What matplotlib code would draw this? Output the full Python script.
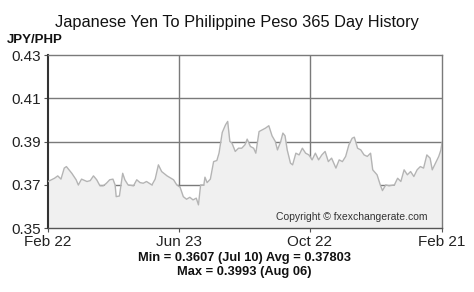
import numpy as np
import matplotlib.pyplot as plt

# days since Feb 22 and JPY/PHP rate
days = [0, 6, 9, 12, 15, 17, 22, 26, 28, 31, 36, 39, 42, 45, 48, 51, 54, 57, 60, 62,
        63, 66, 67, 69, 71, 74, 79, 82, 85, 88, 91, 96, 99, 102, 105, 110, 116, 119, 122, 125,
        128, 131, 134, 137, 139, 141, 144, 145, 147, 150, 153, 156, 158, 161, 164, 166, 168, 170, 173, 176,
        179, 182, 184, 187, 190, 192, 195, 198, 201, 204, 207, 210, 212, 215, 217, 219, 221, 224, 226, 229,
        232, 235, 238, 241, 244, 247, 250, 253, 256, 259, 262, 266, 269, 272, 275, 278, 281, 283, 286, 289,
        292, 295, 298, 300, 304, 307, 309, 312, 315, 320, 323, 326, 329, 332, 335, 338, 341, 344, 347, 350,
        353, 355, 358, 361, 363, 364]
rates = [0.3715, 0.3730, 0.3741, 0.3726, 0.3777, 0.3784, 0.3753, 0.3723, 0.3699, 0.3726, 0.3715, 0.3719, 0.3741, 0.3723, 0.3695, 0.3695, 0.3707, 0.3723, 0.3726, 0.3699,
         0.3645, 0.3648, 0.3684, 0.3753, 0.3723, 0.3699, 0.3695, 0.3723, 0.3710, 0.3707, 0.3715, 0.3699, 0.3726, 0.3792, 0.3761, 0.3741, 0.3723, 0.3699, 0.3689, 0.3645,
         0.3633, 0.3642, 0.3630, 0.3638, 0.3607, 0.3699, 0.3699, 0.3735, 0.3710, 0.3726, 0.3807, 0.3812, 0.3846, 0.3942, 0.3977, 0.3993, 0.3900, 0.3892, 0.3854, 0.3869,
         0.3869, 0.3885, 0.3911, 0.3877, 0.3869, 0.3846, 0.3946, 0.3954, 0.3962, 0.3973, 0.3926, 0.3900, 0.3861, 0.3900, 0.3939, 0.3926, 0.3861, 0.3800, 0.3792, 0.3846,
         0.3838, 0.3869, 0.3846, 0.3838, 0.3815, 0.3846, 0.3815, 0.3838, 0.3854, 0.3807, 0.3823, 0.3777, 0.3815, 0.3807, 0.3831, 0.3885, 0.3915, 0.3920, 0.3869, 0.3861,
         0.3838, 0.3831, 0.3846, 0.3769, 0.3746, 0.3699, 0.3673, 0.3699, 0.3695, 0.3699, 0.3730, 0.3715, 0.3769, 0.3746, 0.3761, 0.3738, 0.3769, 0.3784, 0.3777, 0.3838,
         0.3823, 0.3769, 0.3800, 0.3831, 0.3861, 0.3895]

tick_days = [0, 121, 242, 364]
tick_labels = ['Feb 22', 'Jun 23', 'Oct 22', 'Feb 21']
y_ticks = [0.35, 0.37, 0.39, 0.41, 0.43]

plt.rcParams['font.family'] = ['Liberation Sans', 'DejaVu Sans']

fig = plt.figure(figsize=(4.74, 2.92), dpi=100)
ax = fig.add_axes([48 / 474, 1 - 228 / 292, 394 / 474, 173 / 292])

ax.fill_between(days, rates, 0.35, color='#f0f0f0', zorder=2, linewidth=0)
ax.plot(days, rates, color='#b4b4b4', linewidth=1.0, zorder=3)

for d in tick_days[1:3]:
    ax.axvline(d, color='#7a7a7a', linewidth=1.0, zorder=1)
for v in y_ticks[1:4]:
    ax.axhline(v, color='#7a7a7a', linewidth=1.0, zorder=1)

ax.set_xlim(0, 364)
ax.set_ylim(0.35, 0.43)
ax.set_xticks(tick_days)
ax.set_xticklabels(tick_labels, fontsize=11, color='#222222')
ax.set_yticks(y_ticks)
ax.set_yticklabels(['%.2f' % v for v in y_ticks], fontsize=11, color='#222222')
ax.tick_params(axis='both', length=3, width=0.8, color='#555555', pad=2)

for s in ['top', 'right']:
    ax.spines[s].set_color('#7a7a7a')
    ax.spines[s].set_linewidth(1.0)
ax.spines['left'].set_color('#333333')
ax.spines['left'].set_linewidth(1.5)
ax.spines['bottom'].set_color('#555555')
ax.spines['bottom'].set_linewidth(1.0)

fig.text(237 / 474, 1 - 23 / 292, 'Japanese Yen To Philippine Peso 365 Day History',
         ha='center', va='center', fontsize=11.8, color='#111111')
fig.text(7 / 474, 1 - 40 / 292, 'JPY/PHP', ha='left', va='center', fontsize=9.5,
         fontweight='bold', color='#111111')
ax.text(0.964, 0.065, 'Copyright \u00a9 fxexchangerate.com', transform=ax.transAxes,
        ha='right', va='center', fontsize=7.5, color='#333333', zorder=4)
fig.text(244 / 474, 1 - 258 / 292, 'Min = 0.3607 (Jul 10) Avg = 0.37803',
         ha='center', va='center', fontsize=9.3, fontweight='bold', color='#111111')
fig.text(244 / 474, 1 - 272 / 292, 'Max = 0.3993 (Aug 06)',
         ha='center', va='center', fontsize=9.3, fontweight='bold', color='#111111')

fig.savefig('out.png', dpi=100)
